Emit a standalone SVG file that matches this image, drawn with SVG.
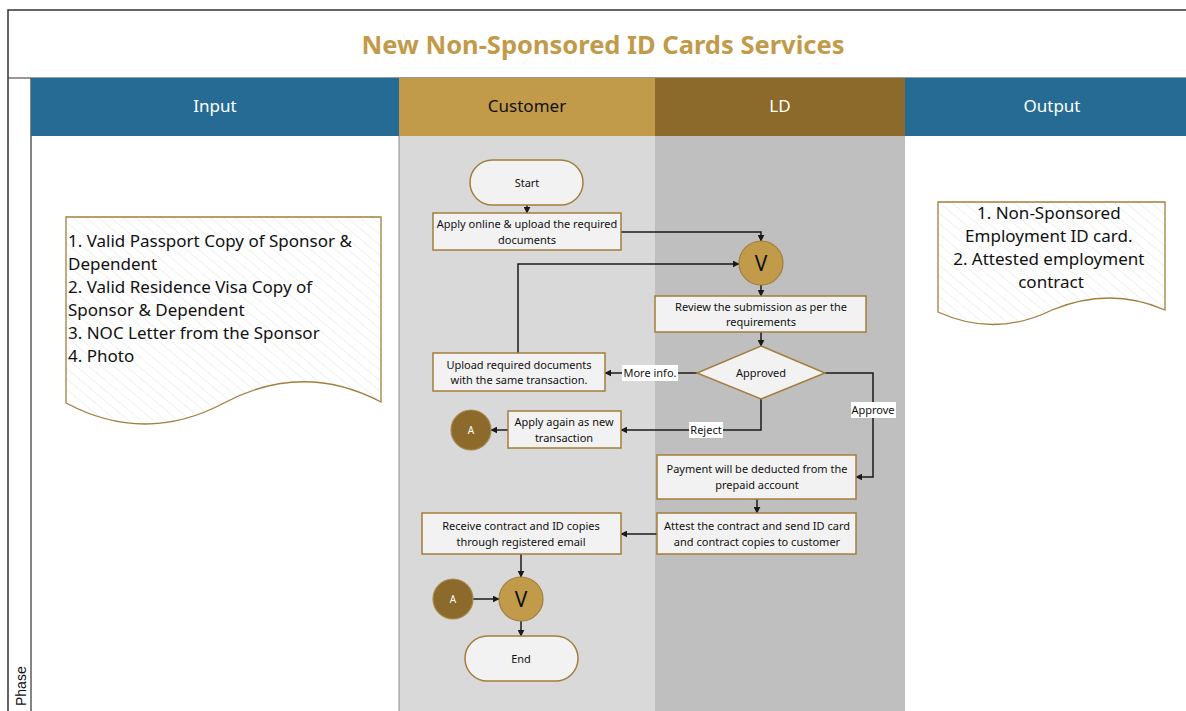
<svg xmlns="http://www.w3.org/2000/svg" width="1186" height="711" viewBox="0 0 1186 711">
  <defs>
    <marker id="arrow" viewBox="0 0 10 10" refX="9" refY="5" markerWidth="7" markerHeight="7" orient="auto" markerUnits="userSpaceOnUse">
      <path d="M0,0 L10,5 L0,10 Z" fill="#1a1a1a"/>
    </marker>
    <pattern id="hatch" width="8" height="8" patternUnits="userSpaceOnUse" patternTransform="rotate(-50)">
      <line x1="0" y1="0" x2="0" y2="8" stroke="#e4e4e4" stroke-width="1"/>
    </pattern>
    <style>
      .txt { font-family: "Noto Sans", "Open Sans", sans-serif; fill: #111; }
      .box { fill: #f2f2f2; stroke: #a27f3d; stroke-width: 1.5; }
      .pill { fill: #f2f2f2; stroke: #a27f3d; stroke-width: 1.5; }
      .vnode { fill: #c19a4a; stroke: #a27f3d; stroke-width: 1.2; }
      .anode { fill: #8b6a2b; stroke: #a88a4e; stroke-width: 1.2; }
      .doc { fill: url(#hatch); stroke: #a27f3d; stroke-width: 1.3; }
      .conn { fill: none; stroke: #1a1a1a; stroke-width: 1.5; marker-end: url(#arrow); }
      .small { font-size: 11px; text-anchor: middle; }
      .hdr { font-size: 17px; text-anchor: middle; }
      .lbl { fill: #ffffff; }
    </style>
  </defs>

  <!-- page frame and title band -->
  <rect x="0" y="0" width="1186" height="711" fill="#ffffff"/>
  <rect x="8" y="10" width="1190" height="710" fill="#ffffff" stroke="#333" stroke-width="1.5"/>
  <line x1="8" y1="78" x2="1186" y2="78" stroke="#333" stroke-width="1.2"/>
  <text x="603" y="54" class="txt" style="font-size:25.5px;font-weight:bold;fill:#c19a4a;text-anchor:middle">New Non-Sponsored ID Cards Services</text>

  <!-- lane bodies -->
  <rect x="399" y="136" width="256" height="575" fill="#d9d9d9"/>
  <rect x="655" y="136" width="250" height="575" fill="#bfbfbf"/>
  <line x1="399" y1="136" x2="399" y2="711" stroke="#8c8c8c" stroke-width="1"/>
  <line x1="31" y1="78" x2="31" y2="711" stroke="#333" stroke-width="1.2"/>

  <!-- lane headers -->
  <rect x="31" y="78" width="368" height="58" fill="#266b94"/>
  <rect x="399" y="78" width="256" height="58" fill="#c19a4a"/>
  <rect x="655" y="78" width="250" height="58" fill="#8b6a2b"/>
  <rect x="905" y="78" width="281" height="58" fill="#266b94"/>
  <text x="215" y="112" class="txt hdr" style="fill:#fff">Input</text>
  <text x="527" y="112" class="txt hdr">Customer</text>
  <text x="780" y="112" class="txt hdr" style="fill:#fff">LD</text>
  <text x="1052" y="112" class="txt hdr" style="fill:#fff">Output</text>

  <!-- phase label -->
  <text transform="translate(26,706) rotate(-90)" class="txt" style="font-size:14px;font-family:'Liberation Sans',sans-serif">Phase</text>

  <!-- input document -->
  <g id="input-doc">
    <path class="doc" d="M66,217 H381 V402 Q303,361 224,403 Q145,445 66,403 Z"/>
    <text class="txt" style="font-size:17px">
      <tspan x="68" y="247">1. Valid Passport Copy of Sponsor &amp;</tspan>
      <tspan x="68" y="270">Dependent</tspan>
      <tspan x="68" y="293">2. Valid Residence Visa Copy of</tspan>
      <tspan x="68" y="316">Sponsor &amp; Dependent</tspan>
      <tspan x="68" y="339">3. NOC Letter from the Sponsor</tspan>
      <tspan x="68" y="362">4. Photo</tspan>
    </text>
  </g>

  <!-- output document -->
  <g id="output-doc">
    <path class="doc" d="M938,202 H1165 V310 Q1110,286 1052,310 Q995,338 938,312 Z"/>
    <text class="txt" style="font-size:17px;text-anchor:middle">
      <tspan x="1051" y="219">1. Non-Sponsored</tspan>
      <tspan x="1051" y="242">Employment ID card.</tspan>
      <tspan x="1051" y="265">2. Attested employment</tspan>
      <tspan x="1051" y="288">contract</tspan>
    </text>
  </g>

  <!-- connectors -->
  <g id="connectors">
    <path class="conn" d="M527,205 V213"/>
    <path class="conn" d="M621,232 H761 V241"/>
    <path class="conn" d="M518,353 V264 H739"/>
    <path class="conn" d="M761,285 V296"/>
    <path class="conn" d="M761,332 V346"/>
    <path class="conn" d="M697,373 H605"/>
    <path class="conn" d="M761,399 V430 H621"/>
    <path class="conn" d="M508,430 H491"/>
    <path class="conn" d="M825,373 H873 V477 H856"/>
    <path class="conn" d="M757,499 V513"/>
    <path class="conn" d="M657,534 H621"/>
    <path class="conn" d="M521,554 V577"/>
    <path class="conn" d="M473,599 H499"/>
    <path class="conn" d="M521,621 V636"/>
    <!-- connector labels -->
    <rect x="622" y="365" width="56" height="16" fill="#ffffff"/>
    <text x="650" y="377" class="txt small">More info.</text>
    <rect x="689" y="422" width="34" height="16" fill="#ffffff"/>
    <text x="706" y="434" class="txt small">Reject</text>
    <rect x="851" y="402" width="45" height="16" fill="#ffffff"/>
    <text x="873" y="414" class="txt small">Approve</text>
  </g>

  <!-- flow nodes -->
  <g id="start">
    <rect class="pill" x="470" y="160" width="113" height="45" rx="22.5"/>
    <text x="527" y="187" class="txt small">Start</text>
  </g>
  <g id="apply-online">
    <rect class="box" x="433" y="213" width="188" height="37"/>
    <text class="txt small"><tspan x="527" y="228">Apply online &amp; upload the required</tspan><tspan x="527" y="244">documents</tspan></text>
  </g>
  <g id="merge-1">
    <circle class="vnode" cx="761" cy="263" r="22"/>
    <text x="761" y="271" class="txt" style="font-size:21px;text-anchor:middle">V</text>
  </g>
  <g id="review">
    <rect class="box" x="655" y="296" width="211" height="36"/>
    <text class="txt small"><tspan x="761" y="311">Review the submission as per the</tspan><tspan x="761" y="326">requirements</tspan></text>
  </g>
  <g id="approved">
    <path class="box" d="M761,346 L825,373 L761,399 L697,373 Z"/>
    <text x="761" y="377" class="txt small">Approved</text>
  </g>
  <g id="upload-docs">
    <rect class="box" x="433" y="353" width="172" height="38"/>
    <text class="txt small"><tspan x="519" y="369">Upload required documents</tspan><tspan x="519" y="384">with the same transaction.</tspan></text>
  </g>
  <g id="apply-again">
    <rect class="box" x="508" y="411" width="113" height="37"/>
    <text class="txt small"><tspan x="564" y="426">Apply again as new</tspan><tspan x="564" y="442">transaction</tspan></text>
  </g>
  <g id="connector-a-out">
    <circle class="anode" cx="471" cy="430" r="20"/>
    <text x="471" y="434" class="txt lbl" style="font-size:10px;text-anchor:middle">A</text>
  </g>
  <g id="payment">
    <rect class="box" x="657" y="455" width="199" height="44"/>
    <text class="txt small"><tspan x="757" y="473">Payment will be deducted from the</tspan><tspan x="757" y="489">prepaid account</tspan></text>
  </g>
  <g id="attest">
    <rect class="box" x="657" y="513" width="199" height="41"/>
    <text class="txt small"><tspan x="757" y="530">Attest the contract and send ID card</tspan><tspan x="757" y="546">and contract copies to customer</tspan></text>
  </g>
  <g id="receive">
    <rect class="box" x="422" y="513" width="199" height="41"/>
    <text class="txt small"><tspan x="521" y="530">Receive contract and ID copies</tspan><tspan x="521" y="546">through registered email</tspan></text>
  </g>
  <g id="connector-a-in">
    <circle class="anode" cx="453" cy="599" r="20"/>
    <text x="453" y="603" class="txt lbl" style="font-size:10px;text-anchor:middle">A</text>
  </g>
  <g id="merge-2">
    <circle class="vnode" cx="521" cy="599" r="22"/>
    <text x="521" y="607" class="txt" style="font-size:21px;text-anchor:middle">V</text>
  </g>
  <g id="end">
    <rect class="pill" x="465" y="636" width="113" height="45" rx="22.5"/>
    <text x="521" y="663" class="txt small">End</text>
  </g>
</svg>
